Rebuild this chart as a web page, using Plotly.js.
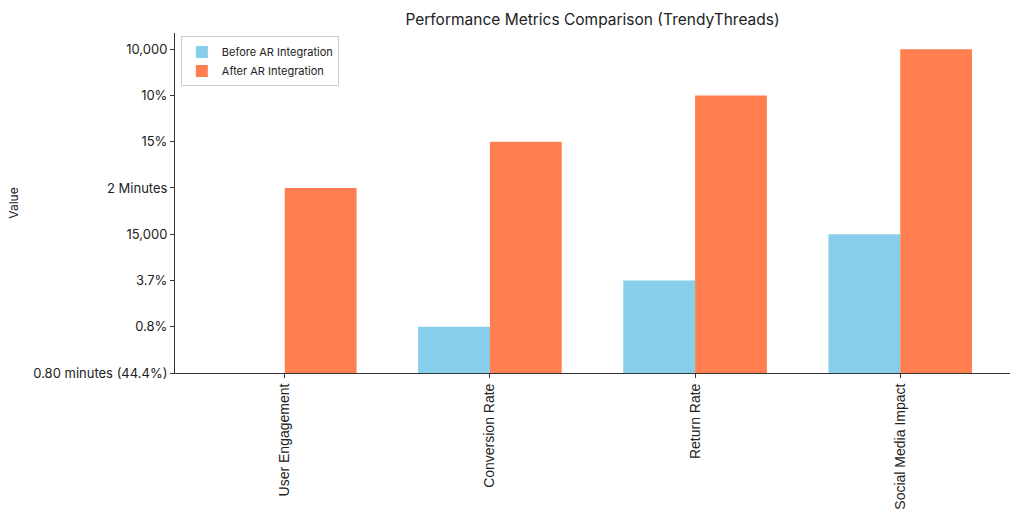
<!DOCTYPE html>
<html>
<head>
<meta charset="utf-8">
<script src="https://cdn.plot.ly/plotly-3.0.1.min.js"></script>
<style>
  html, body { margin: 0; padding: 0; background: #fff; }
  #chart { width: 1024px; height: 512px; }
</style>
</head>
<body>
<div id="chart"></div>
<script>
// metric categories (x) and the string values shown on the categorical y axis
const metrics = ['User Engagement', 'Conversion Rate', 'Return Rate', 'Social Media Impact'];
const beforeValues = ['0.80 minutes (44.4%)', '0.8%', '3.7%', '15,000'];
const afterValues = ['2 Minutes', '15%', '10%', '10,000'];
const valueOrder = ['0.80 minutes (44.4%)', '0.8%', '3.7%', '15,000', '2 Minutes', '15%', '10%', '10,000'];

const FONT = { family: 'Inter, "Open Sans", sans-serif', color: '#222' };

const traces = [
    {
        type: 'bar',
        name: 'Before AR Integration',
        x: metrics,
        y: beforeValues,
        offset: -0.35,
        width: 0.35,
        marker: { color: '#87CEEB' },
        hoverinfo: 'x+y'
    },
    {
        type: 'bar',
        name: 'After AR Integration',
        x: metrics,
        y: afterValues,
        offset: 0,
        width: 0.35,
        marker: { color: '#FF7F50' },
        hoverinfo: 'x+y'
    }
];

const layout = {
    font: FONT,
    width: 1024,
    height: 512,
    margin: { t: 33, r: 14, b: 139, l: 175 },
    title: {
        text: 'Performance Metrics Comparison (TrendyThreads)',
        xref: 'paper', x: 0.5, xanchor: 'center',
        y: 0.962, yanchor: 'middle',
        font: { size: 15.5, color: '#222' }
    },
    barmode: 'group',
    xaxis: {
        type: 'category',
        range: [-0.535, 3.535],
        tickangle: -90,
        ticks: 'outside', ticklen: 4, tickcolor: '#333',
        tickfont: { family: '"Liberation Sans", Arial, sans-serif', size: 14, color: '#222' },
        showline: true, linecolor: '#333', linewidth: 1,
        showgrid: false, zeroline: false
    },
    yaxis: {
        type: 'category',
        categoryorder: 'array',
        categoryarray: valueOrder,
        range: [0, 7.35],
        title: { text: 'Value', font: { size: 12 }, standoff: 12 },
        ticks: 'outside', ticklen: 4, tickcolor: '#333',
        tickfont: { size: 13, color: '#222' },
        showline: true, linecolor: '#333', linewidth: 1,
        showgrid: false, zeroline: false
    },
    legend: {
        x: 0.007, y: 0.99, xanchor: 'left', yanchor: 'top',
        bgcolor: 'rgba(255,255,255,0.8)',
        bordercolor: '#ccc', borderwidth: 1,
        font: { size: 11 },
        tracegroupgap: 0
    },
    showlegend: true,
    plot_bgcolor: 'white',
    paper_bgcolor: 'white'
};

Plotly.newPlot('chart', traces, layout, { displayModeBar: false, staticPlot: true });
</script>
</body>
</html>
